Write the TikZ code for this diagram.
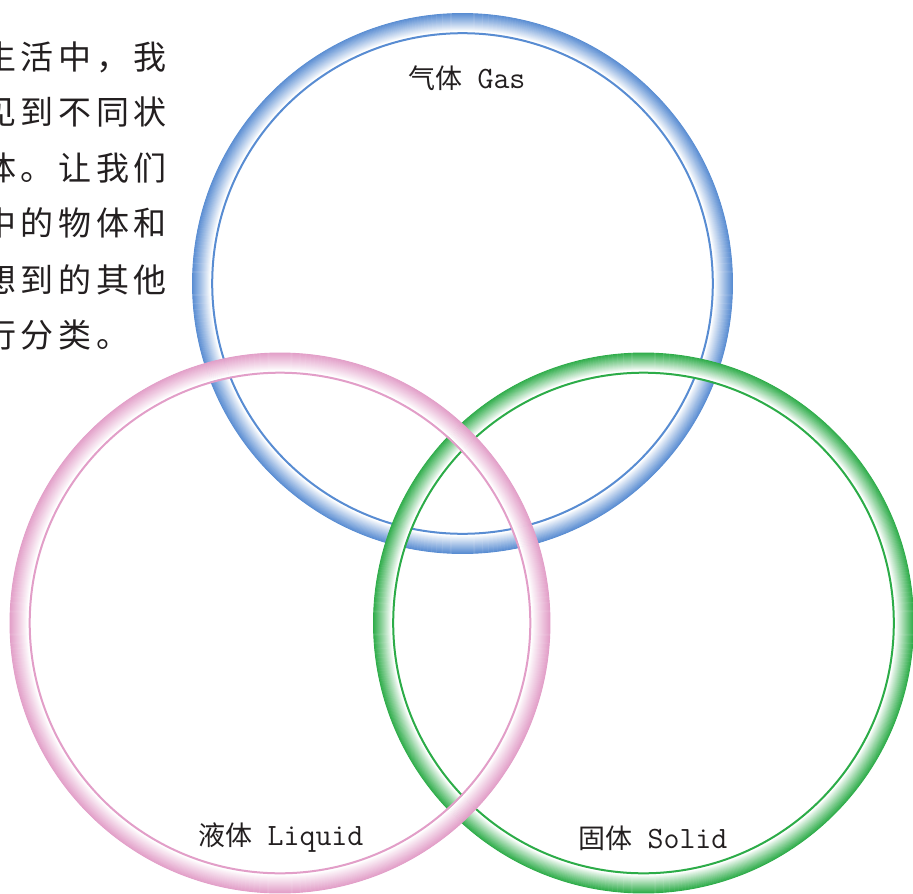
\documentclass[tikz,border=0pt]{standalone}
\usepackage{fontspec}
\newfontfamily\cjk{Noto Sans CJK SC}
\newfontfamily\cjkwide[LetterSpace=14]{Noto Sans CJK SC}
\definecolor{gasblue}{RGB}{88,140,210}
\definecolor{liqpink}{RGB}{226,158,200}
\definecolor{solgreen}{RGB}{44,172,72}
\definecolor{txt}{RGB}{35,31,32}
\newcommand\vennring[2]{%
  \foreach \i in {0,...,36}{%
    \pgfmathsetmacro\p{100*((36-\i)/36)^0.95}%
    \draw[line width=0.9pt, color=#2!\p!white] #1 circle[radius=270-\i/2];
  }%
  \draw[line width=1.2pt, white] #1 circle[radius=251.8];
  \draw[line width=2pt, #2] #1 circle[radius=250.3];
}
\tikzset{
  bodytext/.style={anchor=west, inner sep=0pt, text=txt, font=\cjkwide\fontsize{33}{40}\selectfont},
  label/.style={inner sep=0pt, text=txt}
}
\begin{document}
\begin{tikzpicture}[x=1pt,y=-1pt]
\useasboundingbox (0,0) rectangle (913,894);
\clip (0,0) rectangle (913,894);
\fill[white] (0,0) rectangle (913,894);
% left paragraph (clipped at the left edge, as in the reference)
\node[bodytext] (l1) at (-17,57) {生活中，我};
\node[bodytext] (l2) at (-17,112) {见到不同状};
\node[bodytext] (l3) at (-17,168) {体。让我们};
\node[bodytext] (l4) at (-17,223) {中的物体和};
\node[bodytext] (l5) at (-17,280) {想到的其他};
\node[bodytext] (l6) at (-17,335) {行分类。};
% rings: blue below, green, pink on top
\vennring{(462.5,283.5)}{gasblue}
\vennring{(643.5,623)}{solgreen}
\vennring{(280,623)}{liqpink}
% labels
\node[label] (gas) at (467,78) {{\cjk\fontsize{27}{30}\selectfont 气体}\hspace{15pt}{\ttfamily\fontsize{31}{30}\selectfont Gas}};
\node[label] (liquid) at (281,838) {{\cjk\fontsize{27}{30}\selectfont 液体}\hspace{15pt}{\ttfamily\fontsize{31}{30}\selectfont Liquid}};
\node[label] (solid) at (653,838) {{\cjk\fontsize{27}{30}\selectfont 固体}\hspace{15pt}{\ttfamily\fontsize{31}{30}\selectfont Solid}};
\end{tikzpicture}
\end{document}
